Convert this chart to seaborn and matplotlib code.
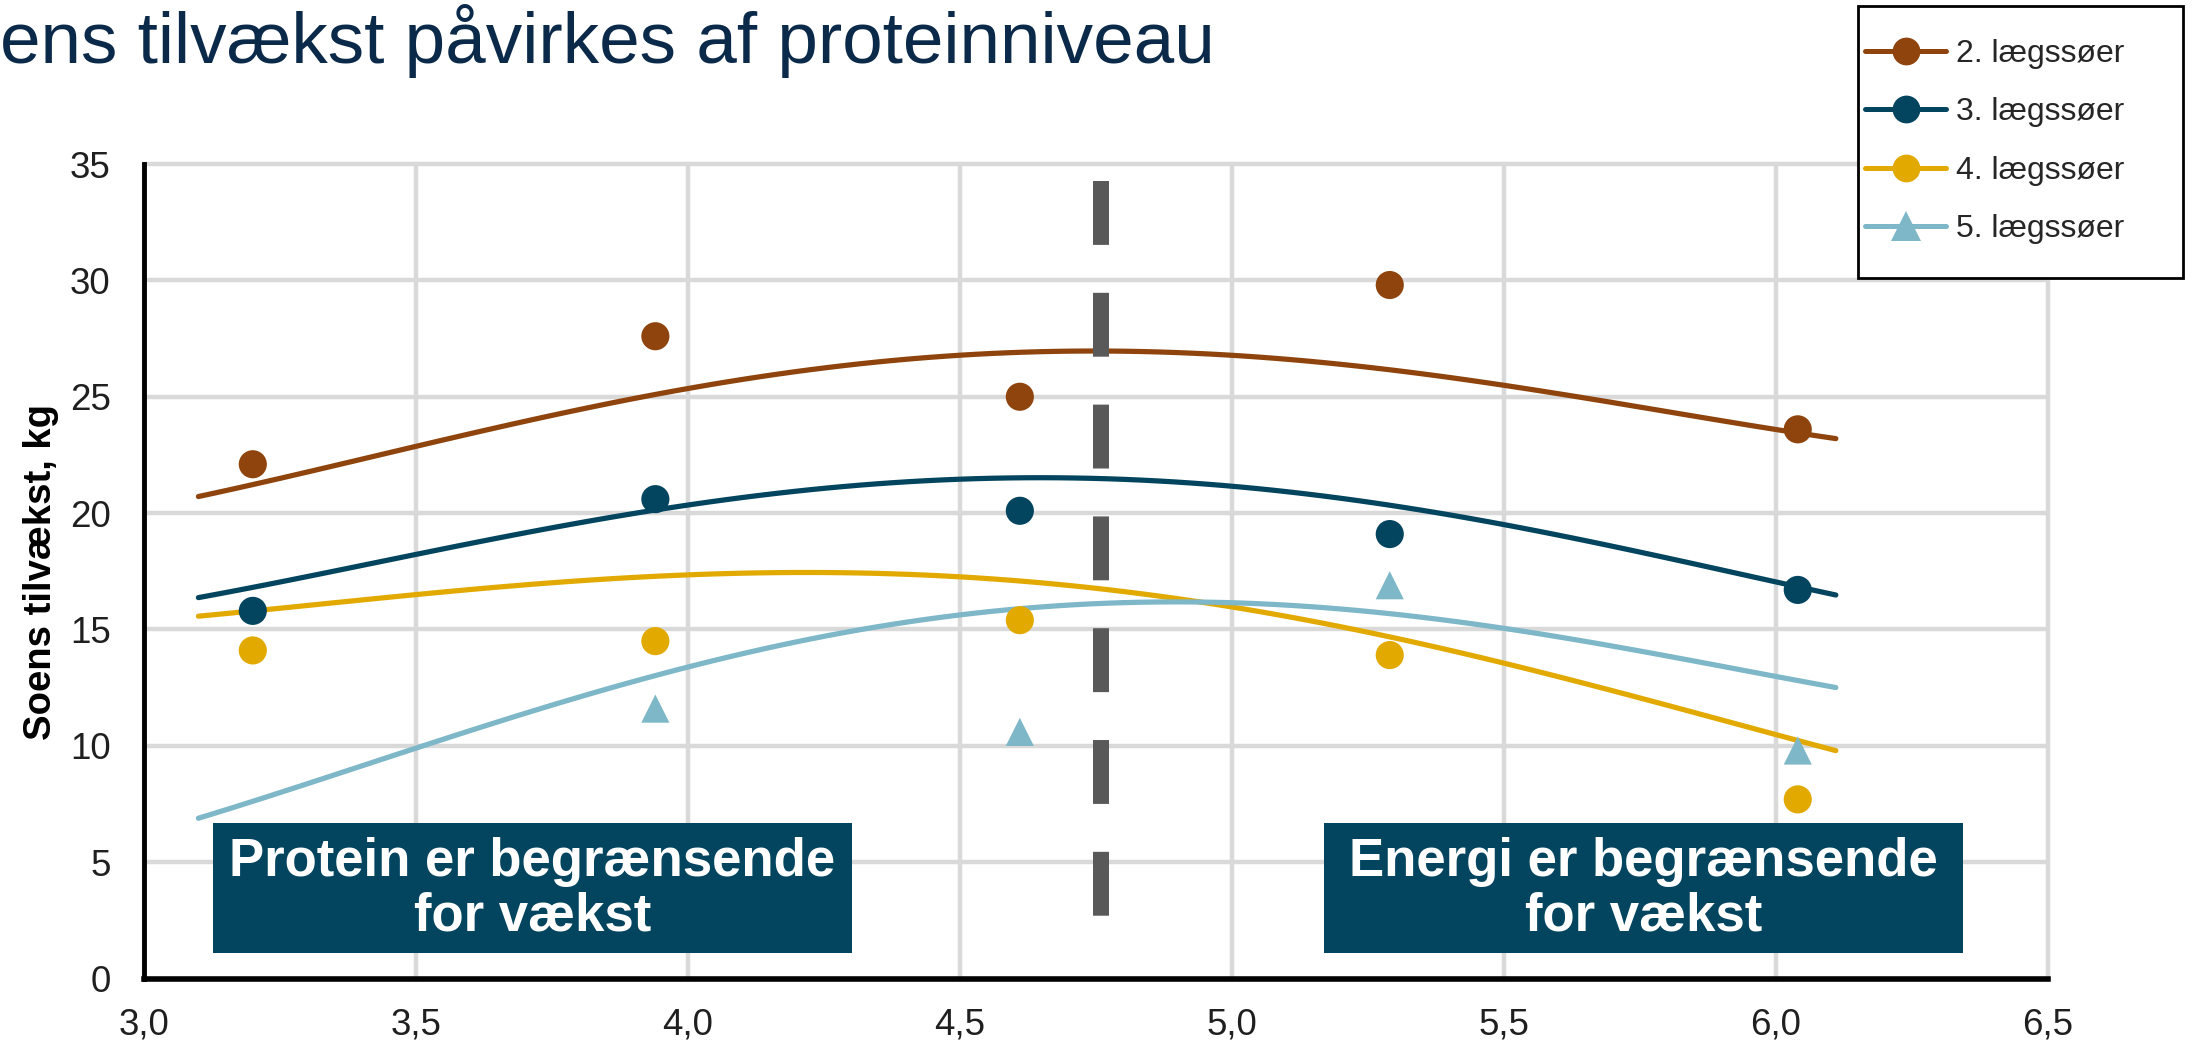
import numpy as np
import pandas as pd
import matplotlib
matplotlib.use("Agg")
import matplotlib.pyplot as plt
from matplotlib.patches import Rectangle
from matplotlib.lines import Line2D
import seaborn as sns

# Series names (parity of the sows)
series_labels = ["2. lægssøer", "3. lægssøer", "4. lægssøer", "5. lægssøer"]

# Protein level of the feeding groups and measured weight gain per parity
protein_level = [3.20, 3.94, 4.61, 5.29, 6.04]
gain_parity2 = [22.1, 27.6, 25.0, 29.8, 23.6]
gain_parity3 = [15.8, 20.6, 20.1, 19.1, 16.7]
gain_parity4 = [14.1, 14.5, 15.4, 13.9, 7.7]
gain_parity5 = [np.nan, 11.6, 10.6, 16.9, 9.8]

# Response curves for each parity along the protein axis
curve_x = [3.10, 3.25, 3.50, 3.75, 4.00, 4.25, 4.50, 4.75, 5.00, 5.25, 5.50, 5.75, 6.00, 6.11]
curve_parity2 = [20.7, 21.5, 22.9, 24.2, 25.3, 26.2, 26.85, 27.0, 26.8, 26.2, 25.45, 24.6, 23.65, 23.15]
curve_parity3 = [16.3, 17.1, 18.3, 19.4, 20.25, 20.95, 21.5, 21.55, 21.25, 20.45, 19.45, 18.3, 17.05, 16.5]
curve_parity4 = [15.55, 15.95, 16.5, 17.0, 17.3, 17.45, 17.3, 16.85, 15.9, 14.8, 13.6, 12.1, 10.45, 9.8]
curve_parity5 = [6.8, 8.1, 9.95, 11.75, 13.3, 14.65, 15.65, 16.15, 16.2, 15.8, 15.0, 14.05, 12.95, 12.55]

# Axis ticks
x_ticks = [3.0, 3.5, 4.0, 4.5, 5.0, 5.5, 6.0, 6.5]
x_tick_labels = ["3,0", "3,5", "4,0", "4,5", "5,0", "5,5", "6,0", "6,5"]
y_ticks = [0, 5, 10, 15, 20, 25, 30, 35]

# Boundary between protein- and energy-limited growth
divider_x = 4.76
divider_span = [34.28, 2.68]

# Annotation boxes: (x0, x1, y0, y1, text)
box_protein = (3.127, 4.301, 1.10, 6.68, "Protein er begrænsende\nfor vækst")
box_energy = (5.170, 6.344, 1.10, 6.68, "Energi er begrænsende\nfor vækst")

colors = ["#8E440C", "#03445F", "#E2AA00", "#7DB7C8"]
markers = ["o", "o", "o", "^"]
box_color = "#03445F"
title_color = "#0B2A4A"

sns.set_theme(style="whitegrid")
plt.rcParams["font.family"] = ["Liberation Sans", "DejaVu Sans"]

gains = [gain_parity2, gain_parity3, gain_parity4, gain_parity5]
curves = [curve_parity2, curve_parity3, curve_parity4, curve_parity5]

points = pd.DataFrame({
    "protein": np.tile(protein_level, 4),
    "gain": np.concatenate(gains),
    "series": np.repeat(series_labels, len(protein_level)),
})

fig = plt.figure(figsize=(21.92, 10.44), dpi=100)
ax = fig.add_axes([144 / 2192, 1 - 978.6 / 1044, (2048 - 144) / 2192, (978.6 - 164) / 1044])

# Smooth polynomial trend through each response curve
for cy, col in zip(curves, colors):
    sns.regplot(x=curve_x, y=cy, order=4, ci=None, scatter=False, truncate=True,
                ax=ax, line_kws=dict(color=col, lw=3.75, solid_capstyle="round",
                                     zorder=2))

palette = dict(zip(series_labels, colors))
sns.scatterplot(data=points.dropna(), x="protein", y="gain", hue="series",
                style="series", markers=dict(zip(series_labels, markers)),
                palette=palette, s=410, linewidth=0, legend=False, ax=ax, zorder=3)

ax.plot([divider_x, divider_x], divider_span, color="#595959", lw=11.5,
        dashes=(4.0, 3.0), dash_capstyle="butt", zorder=4)

for x0, x1, y0, y1, txt in (box_protein, box_energy):
    ax.add_patch(Rectangle((x0, y0), x1 - x0, y1 - y0, facecolor=box_color,
                           edgecolor="none", zorder=5))
    ax.text((x0 + x1) / 2, (y0 + y1) / 2 - 0.05, txt, ha="center", va="center",
            color="white", fontsize=38, fontweight="bold", linespacing=1.12,
            zorder=6)

ax.set_xlim(3.0, 6.5)
ax.set_ylim(0, 35)
ax.set_xticks(x_ticks)
ax.set_xticklabels(x_tick_labels)
ax.set_yticks(y_ticks)
ax.set_xlabel("")
ax.set_ylabel("")
ax.grid(True, color="#D9D9D9", lw=3.2)
ax.set_axisbelow(True)
for gl in ax.get_xgridlines() + ax.get_ygridlines():
    gl.set_clip_on(False)
ax.tick_params(axis="both", length=0, labelsize=26.5, labelcolor="#1F1F1F")
ax.tick_params(axis="x", pad=21)
ax.tick_params(axis="y", pad=24)
ax.spines["top"].set_visible(False)
ax.spines["right"].set_visible(False)
ax.spines["left"].set_color("black")
ax.spines["left"].set_linewidth(3.5)
ax.spines["bottom"].set_color("black")
ax.spines["bottom"].set_linewidth(4)
ax.set_facecolor("white")

fig.text(0.0, 1 - 63 / 1044, "ens tilvækst påvirkes af proteinniveau",
         ha="left", va="baseline", fontsize=52.5, color=title_color)
fig.text(41 / 2192, 1 - 572 / 1044, "Soens tilvækst, kg", rotation=90,
         ha="center", va="center", fontsize=27.5, fontweight="bold", color="black")

# Legend frame and entries
fig.add_artist(Rectangle((1858 / 2192, 1 - 278 / 1044), (2183 - 1858) / 2192, 272 / 1044,
                         transform=fig.transFigure, facecolor="white",
                         edgecolor="black", lw=2, zorder=3))
handles = [Line2D([0], [0], color=c, lw=3.6, marker=m, markersize=(22 if m == "^" else 20),
                  markeredgewidth=0)
           for c, m in zip(colors, markers)]
leg = fig.legend(handles, series_labels, loc="upper left",
                 bbox_to_anchor=(1865 / 2192, 1 - 39 / 1044), frameon=False,
                 fontsize=23, handlelength=2.54, handletextpad=0.3,
                 labelspacing=0.89, borderpad=0, borderaxespad=0)
leg.set_zorder(6)

fig.savefig("out.png", dpi=100, facecolor="white")
